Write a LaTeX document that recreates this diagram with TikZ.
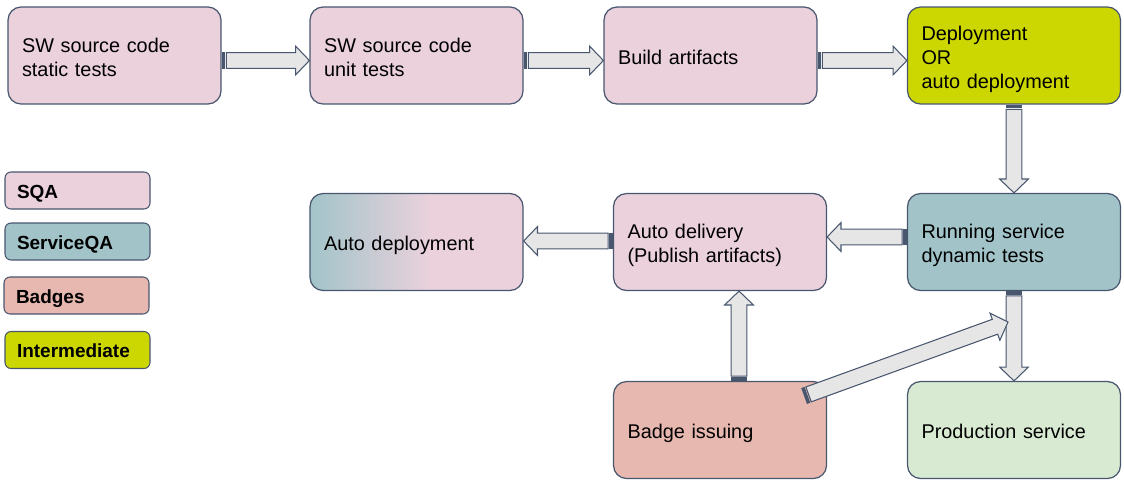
\documentclass[tikz,border=0pt]{standalone}
\usepackage{fontspec}
\setmainfont{Liberation Sans}
\usetikzlibrary{calc}
\definecolor{sqa}{RGB}{234,209,220}
\definecolor{sqaT}{RGB}{162,196,201}
\definecolor{badge}{RGB}{230,184,175}
\definecolor{inter}{RGB}{204,214,0}
\definecolor{prod}{RGB}{217,234,211}
\definecolor{edge}{RGB}{72,86,110}
\definecolor{arrfill}{RGB}{230,230,230}
\pgfdeclarehorizontalshading{tealpink}{100bp}{color(0bp)=(sqaT); color(25bp)=(sqaT); color(53bp)=(sqa); color(100bp)=(sqa)}
% extra height #1 on top lowers the centred text by half of #1
\newcommand\boxtext[2][0.16cm]{\raisebox{0pt}[\dimexpr\height+#1\relax][\depth]{\begin{tabular}[c]{@{}l@{}}#2\end{tabular}}}
\tikzset{
  box/.style={draw=edge, line width=0.7pt, rounded corners=0.26cm, align=left,
    text width=3.7cm, inner xsep=0.28cm, inner ysep=0pt, minimum height=1.94cm,
    font=\fontsize{11.3pt}{13.6pt}\selectfont},
  legend/.style={draw=edge, line width=0.6pt, rounded corners=0.12cm, align=left,
    text width=2.42cm, inner xsep=0.24cm, inner ysep=0pt, minimum height=0.74cm,
    font=\fontsize{10.8pt}{13pt}\selectfont\bfseries},
  arrbody/.style={fill=arrfill, draw=edge, line width=0.6pt, line join=miter},
  tailc/.style={fill=edge}
}
\newcommand\barrow[2]{%
  \coordinate (bs) at (#1);
  \coordinate (be) at (#2);
  \coordinate (bh) at ($(be)!7.9pt!(bs)$);
  \coordinate (bt) at ($(bs)!2.7pt!(be)$);
  \coordinate (bu) at ($(bs)!2pt!(be)$);
  \filldraw[arrbody] ($(bt)!4.5pt!90:(be)$) -- ($(bh)!4.5pt!90:(be)$) -- ($(bh)!8.2pt!90:(be)$) -- (be) -- ($(bh)!8.2pt!-90:(be)$) -- ($(bh)!4.5pt!-90:(be)$) -- ($(bt)!4.5pt!-90:(be)$) -- cycle;
  \fill[tailc] ($(bs)!4.8pt!90:(be)$) -- ($(bu)!4.8pt!90:(be)$) -- ($(bu)!4.8pt!-90:(be)$) -- ($(bs)!4.8pt!-90:(be)$) -- cycle;
}
\begin{document}
\begin{tikzpicture}[x=0.02cm, y=-0.02cm]
\useasboundingbox (0,0) rectangle (1124,488);
% main boxes
\node[box, fill=sqa] (A) at (114.5,55.5) {\boxtext{SW source code\\static tests}};
\node[box, fill=sqa] (B) at (416.5,55.5) {\boxtext{SW source code\\unit tests}};
\node[box, fill=sqa] (C) at (710.5,55.5) {\boxtext{Build artifacts}};
\node[box, fill=inter] (D) at (1014,55.5) {\boxtext{Deployment\\OR\\auto deployment}};
\node[box, fill=sqaT] (E) at (1014,242) {\boxtext{Running service\\dynamic tests}};
\node[box, fill=sqa] (F) at (720,242) {\boxtext{Auto delivery\\(Publish artifacts)}};
\node[box, shade, shading=tealpink] (G) at (416.5,242) {\boxtext{Auto deployment}};
\node[box, fill=badge] (H) at (720,430) {\boxtext{Badge issuing}};
\node[box, fill=prod] (I) at (1014,430) {\boxtext{Production service}};
% legend
\node[legend, fill=sqa] (L1) at (77.5,190.5) {\boxtext[0.15cm]{SQA}};
\node[legend, fill=sqaT] (L2) at (77.5,241.5) {\boxtext[0.15cm]{ServiceQA}};
\node[legend, fill=badge] (L3) at (76.5,295.5) {\boxtext[0.15cm]{Badges}};
\node[legend, fill=inter] (L4) at (77.5,350) {\boxtext[0.12cm]{Intermediate}};
% arrows
\barrow{$(A.east)+(0,5)$}{$(B.west)+(0,5)$}
\barrow{$(B.east)+(0,5)$}{$(C.west)+(0,5)$}
\barrow{$(C.east)+(0,5)$}{$(D.west)+(0,5)$}
\barrow{D.south}{E.north}
\barrow{$(E.west)+(0,-5)$}{$(F.east)+(0,-5)$}
\barrow{$(F.west)+(0,-1)$}{$(G.east)+(0,-1)$}
\barrow{$(H.north)+(19,0)$}{$(F.south)+(19,0)$}
\barrow{E.south}{I.north}
\coordinate (dtail) at ($(H.east)+(-23,-34)$);
\coordinate (dtip) at (1008,322);
\barrow{dtail}{dtip}
\end{tikzpicture}
\end{document}
